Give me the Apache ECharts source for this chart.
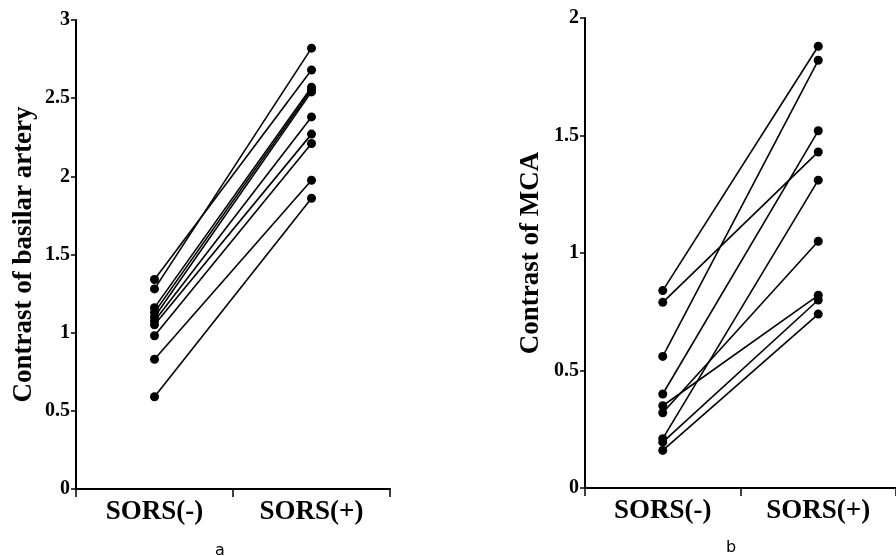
<!DOCTYPE html>
<html>
<head>
<meta charset="utf-8">
<style>
  html, body { margin: 0; padding: 0; background: #fff; }
  #main { width: 896px; height: 556px; }
</style>
<script src="https://cdn.jsdelivr.net/npm/echarts@6/dist/echarts.min.js"></script>
</head>
<body>
<div id="main"></div>
<script>
// categories on the x axis
var groups = ['SORS(-)', 'SORS(+)'];

// panel a: contrast of basilar artery, one pair per subject
var basilarBefore = [1.34, 1.28, 1.16, 1.13, 1.10, 1.075, 1.05, 0.98, 0.83, 0.59];
var basilarAfter  = [2.68, 2.82, 2.57, 2.555, 2.54, 2.38, 2.27, 2.21, 1.975, 1.86];

// panel b: contrast of MCA
var mcaBefore = [0.84, 0.79, 0.56, 0.40, 0.35, 0.32, 0.21, 0.195, 0.16];
var mcaAfter  = [1.88, 1.43, 1.82, 1.52, 0.82, 1.05, 1.31, 0.80, 0.74];

var serif = '"Liberation Serif", "Times New Roman", serif';

function pairSeries(before, after, gridIdx) {
  var out = [];
  for (var i = 0; i < before.length; i++) {
    out.push({
      type: 'line',
      xAxisIndex: gridIdx,
      yAxisIndex: gridIdx,
      data: [before[i], after[i]],
      symbol: 'circle',
      symbolSize: 9,
      showSymbol: true,
      lineStyle: { color: '#000', width: 1.6 },
      itemStyle: { color: '#000' },
      animation: false
    });
  }
  return out;
}

function xAxis(gridIdx) {
  return {
    type: 'category',
    gridIndex: gridIdx,
    data: groups,
    boundaryGap: true,
    axisLine: { lineStyle: { color: '#000', width: 2 } },
    axisTick: { show: true, length: 8, lineStyle: { color: '#000', width: 1.5 } },
    axisLabel: {
      color: '#000', fontFamily: serif, fontWeight: 'bold', fontSize: 27, margin: 10
    }
  };
}

function yAxis(gridIdx, max, name, gap) {
  return {
    type: 'value',
    gridIndex: gridIdx,
    min: 0,
    max: max,
    interval: 0.5,
    name: name,
    nameLocation: 'middle',
    nameGap: gap,
    nameTextStyle: { color: '#000', fontFamily: serif, fontWeight: 'bold', fontSize: 27 },
    splitLine: { show: false },
    axisLine: { show: true, lineStyle: { color: '#000', width: 2 } },
    axisTick: { show: true, length: 5, lineStyle: { color: '#000', width: 1.5 } },
    axisLabel: {
      color: '#000', fontFamily: serif, fontWeight: 'bold', fontSize: 20, margin: 6
    }
  };
}

var chart = echarts.init(document.getElementById('main'));

chart.setOption({
  backgroundColor: '#fff',
  animation: false,
  title: [
    { text: 'a', left: 210, top: 538,
      textStyle: { fontFamily: '"DejaVu Sans", sans-serif', fontWeight: 'normal', fontSize: 16, color: '#000' } },
    { text: 'b', left: 721, top: 535,
      textStyle: { fontFamily: '"DejaVu Sans", sans-serif', fontWeight: 'normal', fontSize: 16, color: '#000' } }
  ],
  grid: [
    { left: 76, top: 20, width: 314, height: 469 },
    { left: 585, top: 18, width: 316, height: 470 }
  ],
  xAxis: [xAxis(0), xAxis(1)],
  yAxis: [
    yAxis(0, 3, 'Contrast of basilar artery', 38),
    yAxis(1, 2, 'Contrast of MCA', 40)
  ],
  series: pairSeries(basilarBefore, basilarAfter, 0).concat(pairSeries(mcaBefore, mcaAfter, 1))
});
</script>
</body>
</html>
